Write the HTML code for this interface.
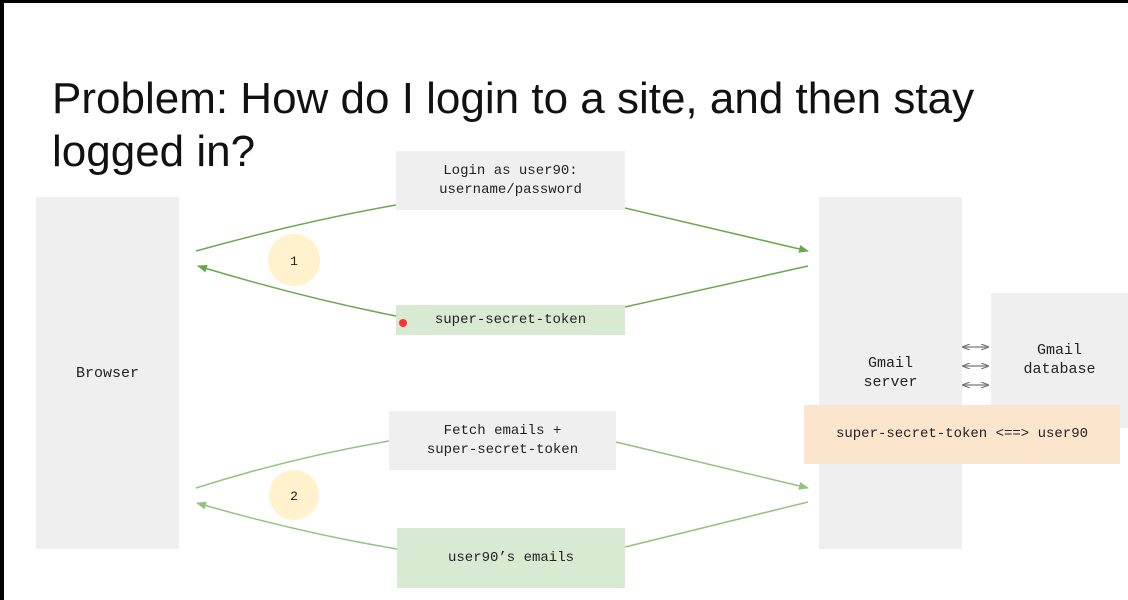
<!DOCTYPE html>
<html><head><meta charset="utf-8"><style>
body{margin:0;width:1128px;height:600px;background:#fff;position:relative;overflow:hidden;font-family:"Liberation Sans",sans-serif}
.b{position:absolute;display:flex;align-items:center;justify-content:center;text-align:center;font-family:"Liberation Mono",monospace;font-size:14px;line-height:19px;color:#222}
.g{background:#efefef}.gr{background:#d9ead3}.o{background:#fce5cd}
h1{position:absolute;left:52px;top:72px;margin:0;font-weight:normal;font-size:44px;line-height:53px;color:#111}
</style></head><body>
<div style="position:absolute;left:0;top:0;width:1128px;height:3px;background:#000"></div>
<div style="position:absolute;left:0;top:0;width:4px;height:600px;background:#000"></div>
<h1>Problem: How do I login to a site, and then stay<br>logged in?</h1>
<div class="b g" style="left:36px;top:197px;width:143px;height:352px;font-size:15px">Browser</div>
<div class="b g" style="left:819px;top:197px;width:143px;height:352px;font-size:15px">Gmail<br>server</div>
<div class="b g" style="left:991px;top:293px;width:137px;height:135px;font-size:15px;align-items:flex-start;padding-top:48px;box-sizing:border-box">Gmail<br>database</div>
<div class="b o" style="left:804px;top:405px;width:316px;height:59px">super-secret-token &lt;==&gt; user90</div>
<div class="b g" style="left:396px;top:151px;width:229px;height:59px">Login as user90:<br>username/password</div>
<div class="b gr" style="left:396px;top:305px;width:229px;height:30px">super-secret-token</div>
<div class="b g" style="left:389px;top:411px;width:227px;height:59px">Fetch emails +<br>super-secret-token</div>
<div class="b gr" style="left:397px;top:528px;width:228px;height:60px">user90’s emails</div>
<svg width="1128" height="600" style="position:absolute;left:0;top:0">
<defs>
<marker id="a" markerWidth="10" markerHeight="8" refX="9" refY="4" orient="auto" markerUnits="userSpaceOnUse"><path d="M0,0L10,4L0,8z" fill="#6aa84f"/></marker>
<marker id="c" markerWidth="10" markerHeight="8" refX="9" refY="4" orient="auto" markerUnits="userSpaceOnUse"><path d="M0,0L10,4L0,8z" fill="#93c47d"/></marker>
<marker id="d" markerWidth="8" markerHeight="6" refX="7" refY="3" orient="auto-start-reverse" markerUnits="userSpaceOnUse"><path d="M0,0L8,3L0,6" fill="none" stroke="#777" stroke-width="1.2"/></marker>
</defs>
<g stroke="#6aa84f" stroke-width="1.5" fill="none">
<path d="M196,251Q300,222 396,205"/><path d="M625,208L808,251" marker-end="url(#a)"/>
<path d="M808,266L625,307"/><path d="M396,316Q300,297 198,266" marker-end="url(#a)"/>
</g>
<g stroke="#93c47d" stroke-width="1.5" fill="none">
<path d="M196,488Q290,458 389,441"/><path d="M616,442L808,488" marker-end="url(#c)"/>
<path d="M808,502L625,547"/><path d="M397,549Q300,533 197,503" marker-end="url(#c)"/>
</g>
<g stroke="#777" stroke-width="1.2">
<line x1="963" y1="347" x2="988" y2="347" marker-start="url(#d)" marker-end="url(#d)"/>
<line x1="963" y1="366" x2="988" y2="366" marker-start="url(#d)" marker-end="url(#d)"/>
<line x1="963" y1="385" x2="988" y2="385" marker-start="url(#d)" marker-end="url(#d)"/>
</g>
<circle cx="294" cy="260" r="26" fill="#fff2cc"/>
<circle cx="294" cy="495" r="25" fill="#fff2cc"/>
<circle cx="403" cy="323" r="4" fill="#f33"/>
<text x="294" y="265" font-family="Liberation Mono" font-size="13" text-anchor="middle" fill="#222">1</text>
<text x="294" y="500" font-family="Liberation Mono" font-size="13" text-anchor="middle" fill="#222">2</text>
</svg>
</body></html>
